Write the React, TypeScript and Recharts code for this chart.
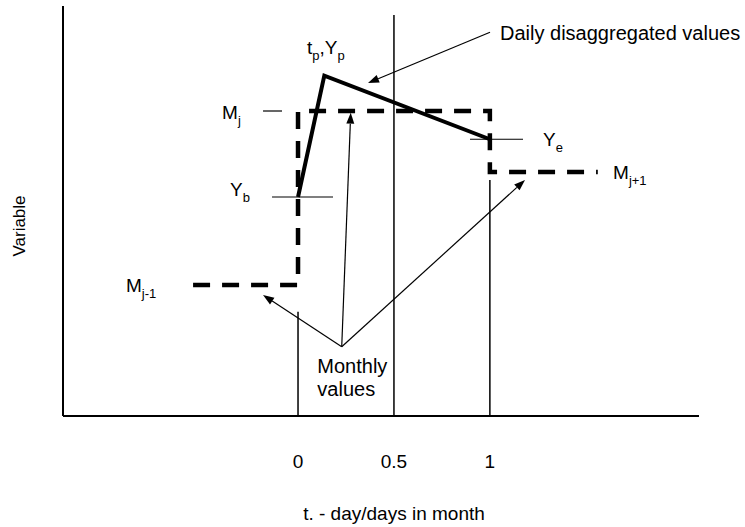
import { ComposedChart, Line, XAxis, YAxis, ReferenceLine, ReferenceDot, Label } from 'recharts';

// x = fraction of the month (0 = start, 1 = end), y = variable on a 0-100 scale
const monthBounds = [-0.547, 0, 1, 1.5625];
const monthlyValues = [31.95, 74.39, 59.51]; // M(j-1), M(j), M(j+1)
const dailyT = [0, 0.137, 1]; // t_b, t_p, t_e
const dailyY = [53.41, 83.0, 67.5]; // Y_b, Y_p, Y_e
const xTicks = [0, 0.5, 1];
const guideTops = [25.44, 97.8, 57.56]; // vertical guide line heights at each tick

const monthlySteps = monthlyValues.flatMap((v, i) => [
  { t: monthBounds[i], v },
  { t: monthBounds[i + 1], v },
]);
const dailyLine = dailyT.map((t, i) => ({ t, v: dailyY[i] }));

// short leader lines next to the labels
const leaders = [
  { from: [-0.1824, monthlyValues[1]], to: [-0.0834, monthlyValues[1]] },
  { from: [-0.1355, dailyY[0]], to: [0.1824, dailyY[0]] },
  { from: [0.8965, dailyY[2]], to: [1.1727, dailyY[2]] },
];

const monthlyApex = [0.2278, 16.9];
const arrows = [
  { from: [1.0007, 93.59], to: [0.3648, 81.22] },
  { from: monthlyApex, to: [-0.1824, 29.51] },
  { from: monthlyApex, to: [0.2747, 73.98] },
  { from: monthlyApex, to: [1.1832, 57.56] },
];

type Part = [string, boolean];
const annotations: { x: number; y: number; size: number; parts: Part[] }[] = [
  { x: -0.8965, y: 31.95, size: 19, parts: [['M', false], ['j-1', true]] },
  { x: -0.396, y: 74.15, size: 19, parts: [['M', false], ['j', true]] },
  { x: -0.354, y: 55.24, size: 19, parts: [['Y', false], ['b', true]] },
  { x: 0.047, y: 89.9, size: 19, parts: [['t', false], ['p', true], [',Y', false], ['p', true]] },
  { x: 1.277, y: 67.44, size: 19, parts: [['Y', false], ['e', true]] },
  { x: 1.642, y: 59.39, size: 19, parts: [['M', false], ['j+1', true]] },
  { x: 1.053, y: 93.54, size: 20, parts: [['Daily disaggregated values', false]] },
  { x: 0.1006, y: 12.27, size: 20, parts: [['Monthly', false]] },
  { x: 0.1006, y: 6.59, size: 20, parts: [['values', false]] },
];

function RichText({ x, y, size, parts }: { x: number; y: number; size: number; parts: Part[] }) {
  const shift = 6;
  let prev = false;
  return (
    <text x={x} y={y + size * 0.36} fontSize={size} fill="#000">
      {parts.map(([s, sub], i) => {
        const dy = sub === prev ? 0 : sub ? shift : -shift;
        prev = sub;
        return (
          <tspan key={i} dy={dy} fontSize={sub ? 13 : size}>
            {s}
          </tspan>
        );
      })}
    </text>
  );
}

function Arrow(props: any) {
  const { x1, y1, x2, y2 } = props;
  const a = Math.atan2(y2 - y1, x2 - x1);
  const len = 11;
  const half = 4;
  const bx = x2 - len * Math.cos(a);
  const by = y2 - len * Math.sin(a);
  const px = -Math.sin(a) * half;
  const py = Math.cos(a) * half;
  return (
    <g>
      <line x1={x1} y1={y1} x2={bx} y2={by} stroke="#000" strokeWidth={1.2} />
      <polygon points={`${x2},${y2} ${bx + px},${by + py} ${bx - px},${by - py}`} fill="#000" />
    </g>
  );
}

function VariableLabel(props: any) {
  const vb = props.viewBox || { x: 0, y: 6, width: 63, height: 410 };
  const x = vb.x + 25;
  const y = vb.y + vb.height / 2 + 15;
  return (
    <text x={x} y={y} fontSize={17} fill="#000" textAnchor="middle" transform={`rotate(-90, ${x}, ${y})`}>
      Variable
    </text>
  );
}

export default function App() {
  return (
    <div
      style={{
        position: 'absolute',
        left: 0,
        top: 0,
        width: 745,
        height: 527,
        background: '#fff',
        fontFamily: '"Liberation Sans", Arial, sans-serif',
      }}
    >
      <ComposedChart width={745} height={527} margin={{ top: 6, right: 46, bottom: 0, left: 0 }}>
        <XAxis
          type="number"
          dataKey="t"
          domain={[-1.225, 2.09]}
          allowDataOverflow
          ticks={xTicks}
          interval={0}
          tickLine={false}
          tickSize={0}
          tickMargin={39}
          tick={{ fill: '#000', fontSize: 19 }}
          axisLine={{ stroke: '#000', strokeWidth: 2 }}
          height={111}
        >
          <Label value="t. - day/days in month" position="insideBottom" offset={7} dx={13} fill="#000" fontSize={19} />
        </XAxis>
        <YAxis
          type="number"
          domain={[0, 100]}
          allowDataOverflow
          width={63}
          tick={false}
          tickLine={false}
          axisLine={{ stroke: '#000', strokeWidth: 2 }}
          label={<VariableLabel />}
        />

        {xTicks.map((t, i) => (
          <ReferenceLine
            key={`g${i}`}
            segment={[{ x: t, y: guideTops[i] }, { x: t, y: 0 }]}
            stroke="#000"
            strokeWidth={1.5}
          />
        ))}
        {leaders.map((l, i) => (
          <ReferenceLine
            key={`l${i}`}
            segment={[{ x: l.from[0], y: l.from[1] }, { x: l.to[0], y: l.to[1] }]}
            stroke="#000"
            strokeWidth={1.2}
          />
        ))}

        <Line
          data={monthlySteps}
          dataKey="v"
          type="linear"
          stroke="#000"
          strokeWidth={4.5}
          strokeDasharray="17 12"
          strokeLinejoin="miter"
          dot={false}
          activeDot={false}
          isAnimationActive={false}
        />
        <Line
          data={dailyLine}
          dataKey="v"
          type="linear"
          stroke="#000"
          strokeWidth={4}
          strokeLinejoin="miter"
          dot={false}
          activeDot={false}
          isAnimationActive={false}
        />

        {arrows.map((a, i) => (
          <ReferenceLine
            key={`a${i}`}
            segment={[{ x: a.from[0], y: a.from[1] }, { x: a.to[0], y: a.to[1] }]}
            shape={(p: any) => <Arrow {...p} />}
          />
        ))}

        {annotations.map((n, i) => (
          <ReferenceDot
            key={`n${i}`}
            x={n.x}
            y={n.y}
            r={0}
            fill="none"
            stroke="none"
            shape={(p: any) => <RichText x={p.cx} y={p.cy} size={n.size} parts={n.parts} />}
          />
        ))}
      </ComposedChart>
    </div>
  );
}
